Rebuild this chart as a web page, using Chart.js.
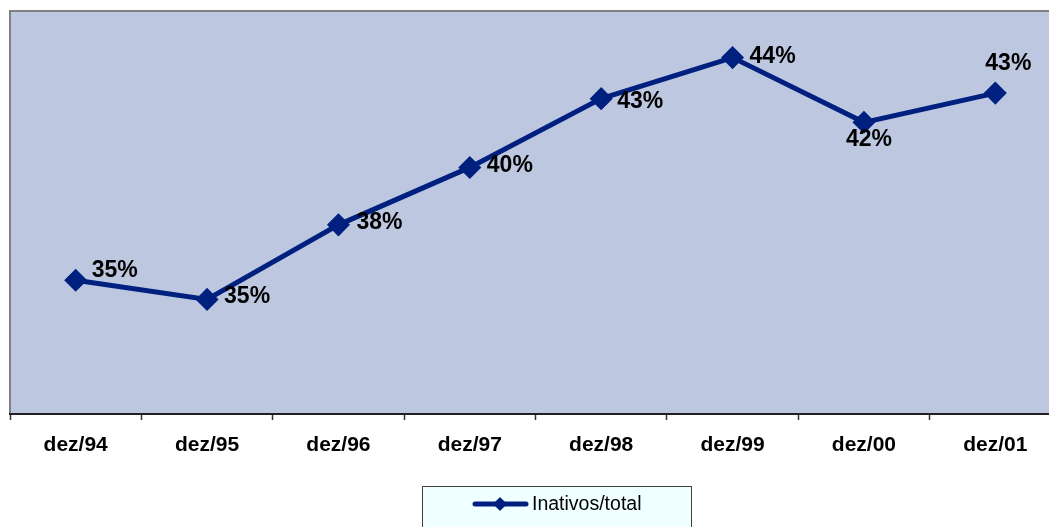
<!DOCTYPE html>
<html>
<head>
<meta charset="utf-8">
<script src="https://cdn.jsdelivr.net/npm/chart.js@4.4.0/dist/chart.umd.min.js"></script>
<style>
  html, body { margin: 0; padding: 0; background: #ffffff; overflow: hidden; }
  #wrap { width: 1049px; height: 527px; overflow: hidden; }
  #ratioChart { display: block; }
</style>
</head>
<body>
<div id="wrap"><canvas id="ratioChart" width="1061" height="527"></canvas></div>
<script>
// categorias e valores (proporção inativos / total)
const categories = ['dez/94', 'dez/95', 'dez/96', 'dez/97', 'dez/98', 'dez/99', 'dez/00', 'dez/01'];
const inativosTotal = [0.3531, 0.3455, 0.3751, 0.3979, 0.4252, 0.4415, 0.4158, 0.4274];
const seriesLabel = 'Inativos/total';
const yMin = 0.30;
const yMax = 0.46;

// posição dos rótulos de cada ponto (dx, dy, alinhamento)
const labelPlacement = [
  [16, -10, 'left'], [17, -3, 'left'], [18, -2, 'left'], [17, -2, 'left'],
  [16, 3, 'left'], [17, -1, 'left'], [5, 17, 'center'], [13, -29, 'center']
];

const lineColor = '#00207F';

// fundo e bordas da área do gráfico
const plotBackground = {
  id: 'plotBackground',
  beforeDraw(chart) {
    const { ctx, chartArea: a } = chart;
    ctx.save();
    ctx.fillStyle = '#BDC8E0';
    ctx.fillRect(a.left, a.top, a.right - a.left, a.bottom - a.top);
    ctx.strokeStyle = '#808080';
    ctx.lineWidth = 2;
    ctx.beginPath();
    ctx.moveTo(a.left, a.bottom);
    ctx.lineTo(a.left, a.top);
    ctx.lineTo(a.right, a.top);
    ctx.stroke();
    ctx.restore();
  }
};

// rótulos de percentual
const valueLabels = {
  id: 'valueLabels',
  afterDatasetsDraw(chart) {
    const { ctx } = chart;
    const meta = chart.getDatasetMeta(0);
    ctx.save();
    ctx.font = 'bold 23px "Liberation Sans", Arial, sans-serif';
    ctx.fillStyle = '#000000';
    ctx.textBaseline = 'middle';
    meta.data.forEach((pt, i) => {
      const p = labelPlacement[i];
      ctx.textAlign = p[2];
      ctx.fillText(Math.round(inativosTotal[i] * 100) + '%', pt.x + p[0], pt.y + p[1]);
    });
    ctx.restore();
  }
};

// legenda em caixa
const boxLegend = {
  id: 'boxLegend',
  afterDraw(chart) {
    const { ctx } = chart;
    const x = 422, y = 486, w = 269, h = 50;
    ctx.save();
    ctx.fillStyle = '#F0FFFF';
    ctx.fillRect(x, y, w, h);
    ctx.strokeStyle = '#404040';
    ctx.lineWidth = 1;
    ctx.strokeRect(x + 0.5, y + 0.5, w, h);
    const ly = 504;
    ctx.strokeStyle = lineColor;
    ctx.lineWidth = 5;
    ctx.lineCap = 'round';
    ctx.beginPath();
    ctx.moveTo(475, ly);
    ctx.lineTo(526, ly);
    ctx.stroke();
    ctx.fillStyle = lineColor;
    ctx.beginPath();
    ctx.moveTo(500, ly - 7);
    ctx.lineTo(507, ly);
    ctx.lineTo(500, ly + 7);
    ctx.lineTo(493, ly);
    ctx.closePath();
    ctx.fill();
    ctx.fillStyle = '#000000';
    ctx.font = '19.5px "Liberation Sans", Arial, sans-serif';
    ctx.textAlign = 'left';
    ctx.textBaseline = 'middle';
    ctx.fillText(seriesLabel, 532, ly + 1);
    ctx.restore();
  }
};

new Chart(document.getElementById('ratioChart').getContext('2d'), {
  type: 'line',
  data: {
    labels: categories,
    datasets: [{
      label: seriesLabel,
      data: inativosTotal,
      borderColor: lineColor,
      backgroundColor: lineColor,
      borderWidth: 5,
      pointStyle: 'rectRot',
      pointRadius: 8,
      pointHoverRadius: 8,
      tension: 0
    }]
  },
  options: {
    responsive: false,
    animation: false,
    layout: { autoPadding: false, padding: { left: 10, top: 11, right: 0, bottom: 0 } },
    plugins: {
      legend: { display: false },
      tooltip: { enabled: false }
    },
    scales: {
      x: {
        offset: true,
        afterFit(scale) { scale.height = 113; },
        grid: {
          offset: true,
          drawOnChartArea: false,
          tickLength: 6,
          tickWidth: 1.5,
          color: '#303030'
        },
        border: { color: '#202020', width: 2 },
        ticks: {
          color: '#000000',
          padding: 13,
          maxRotation: 0,
          font: { family: '"Liberation Sans", Arial, sans-serif', size: 21, weight: 'bold' }
        }
      },
      y: {
        display: false,
        min: yMin,
        max: yMax
      }
    }
  },
  plugins: [plotBackground, valueLabels, boxLegend]
});
</script>
</body>
</html>
